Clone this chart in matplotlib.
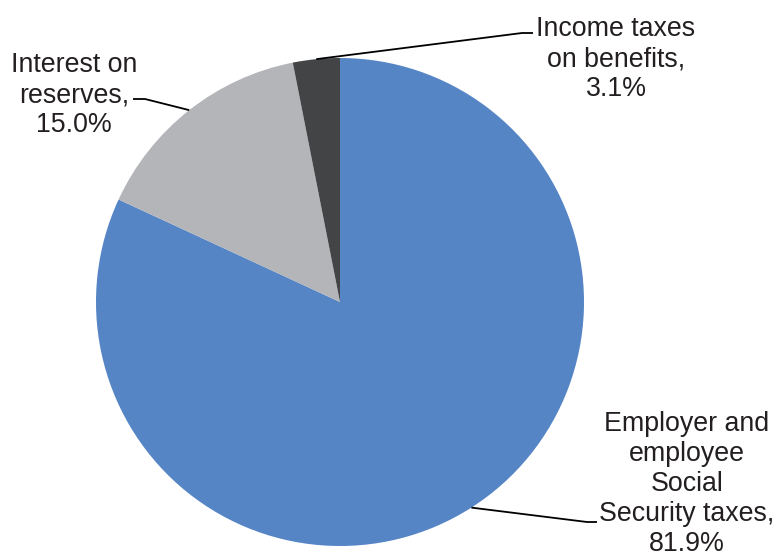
import numpy as np
import matplotlib
matplotlib.use("Agg")
import matplotlib.pyplot as plt

categories = ["Employer and\nemployee\nSocial\nSecurity taxes,", "Interest on\nreserves,", "Income taxes\non benefits,"]
values = [81.9, 15.0, 3.1]
colors = ["#5585C5", "#B4B5B8", "#424446"]

plt.rcParams['font.family'] = ['Liberation Sans', 'DejaVu Sans']

W, H = 776, 554
fig = plt.figure(figsize=(W / 100, H / 100), dpi=100)
ax = fig.add_axes([0, 0, 1, 1])

cx, cy, r = 340, H - 302, 244
wedges, _ = ax.pie(values, colors=colors, startangle=90, counterclock=False,
                   radius=r, center=(cx, cy), frame=True,
                   wedgeprops=dict(linewidth=0))
ax.set_xlim(0, W)
ax.set_ylim(0, H)
ax.set_aspect('equal')
ax.axis('off')

# label layout: (elbow point, end of horizontal, text center)
layout = [
    ((587, H - 522), (597, H - 522), (687, H - 484)),
    ((145, H - 99), (133, H - 99), (74, H - 95)),
    ((522, H - 33), (533, H - 33), (616, H - 59)),
]

for w, cat, val, (elbow, end, tpos) in zip(wedges, categories, values, layout):
    mid = np.deg2rad((w.theta1 + w.theta2) / 2)
    sx, sy = cx + r * np.cos(mid), cy + r * np.sin(mid)
    ax.plot([sx, elbow[0], end[0]], [sy, elbow[1], end[1]], color="black", lw=1.3,
            solid_capstyle='butt', zorder=3)
    ax.text(tpos[0], tpos[1], f"{cat}\n{val:.1f}%", ha='center', va='center',
            fontsize=19.3, color="#231F20", linespacing=1.21)

fig.savefig("out.png", dpi=100)
